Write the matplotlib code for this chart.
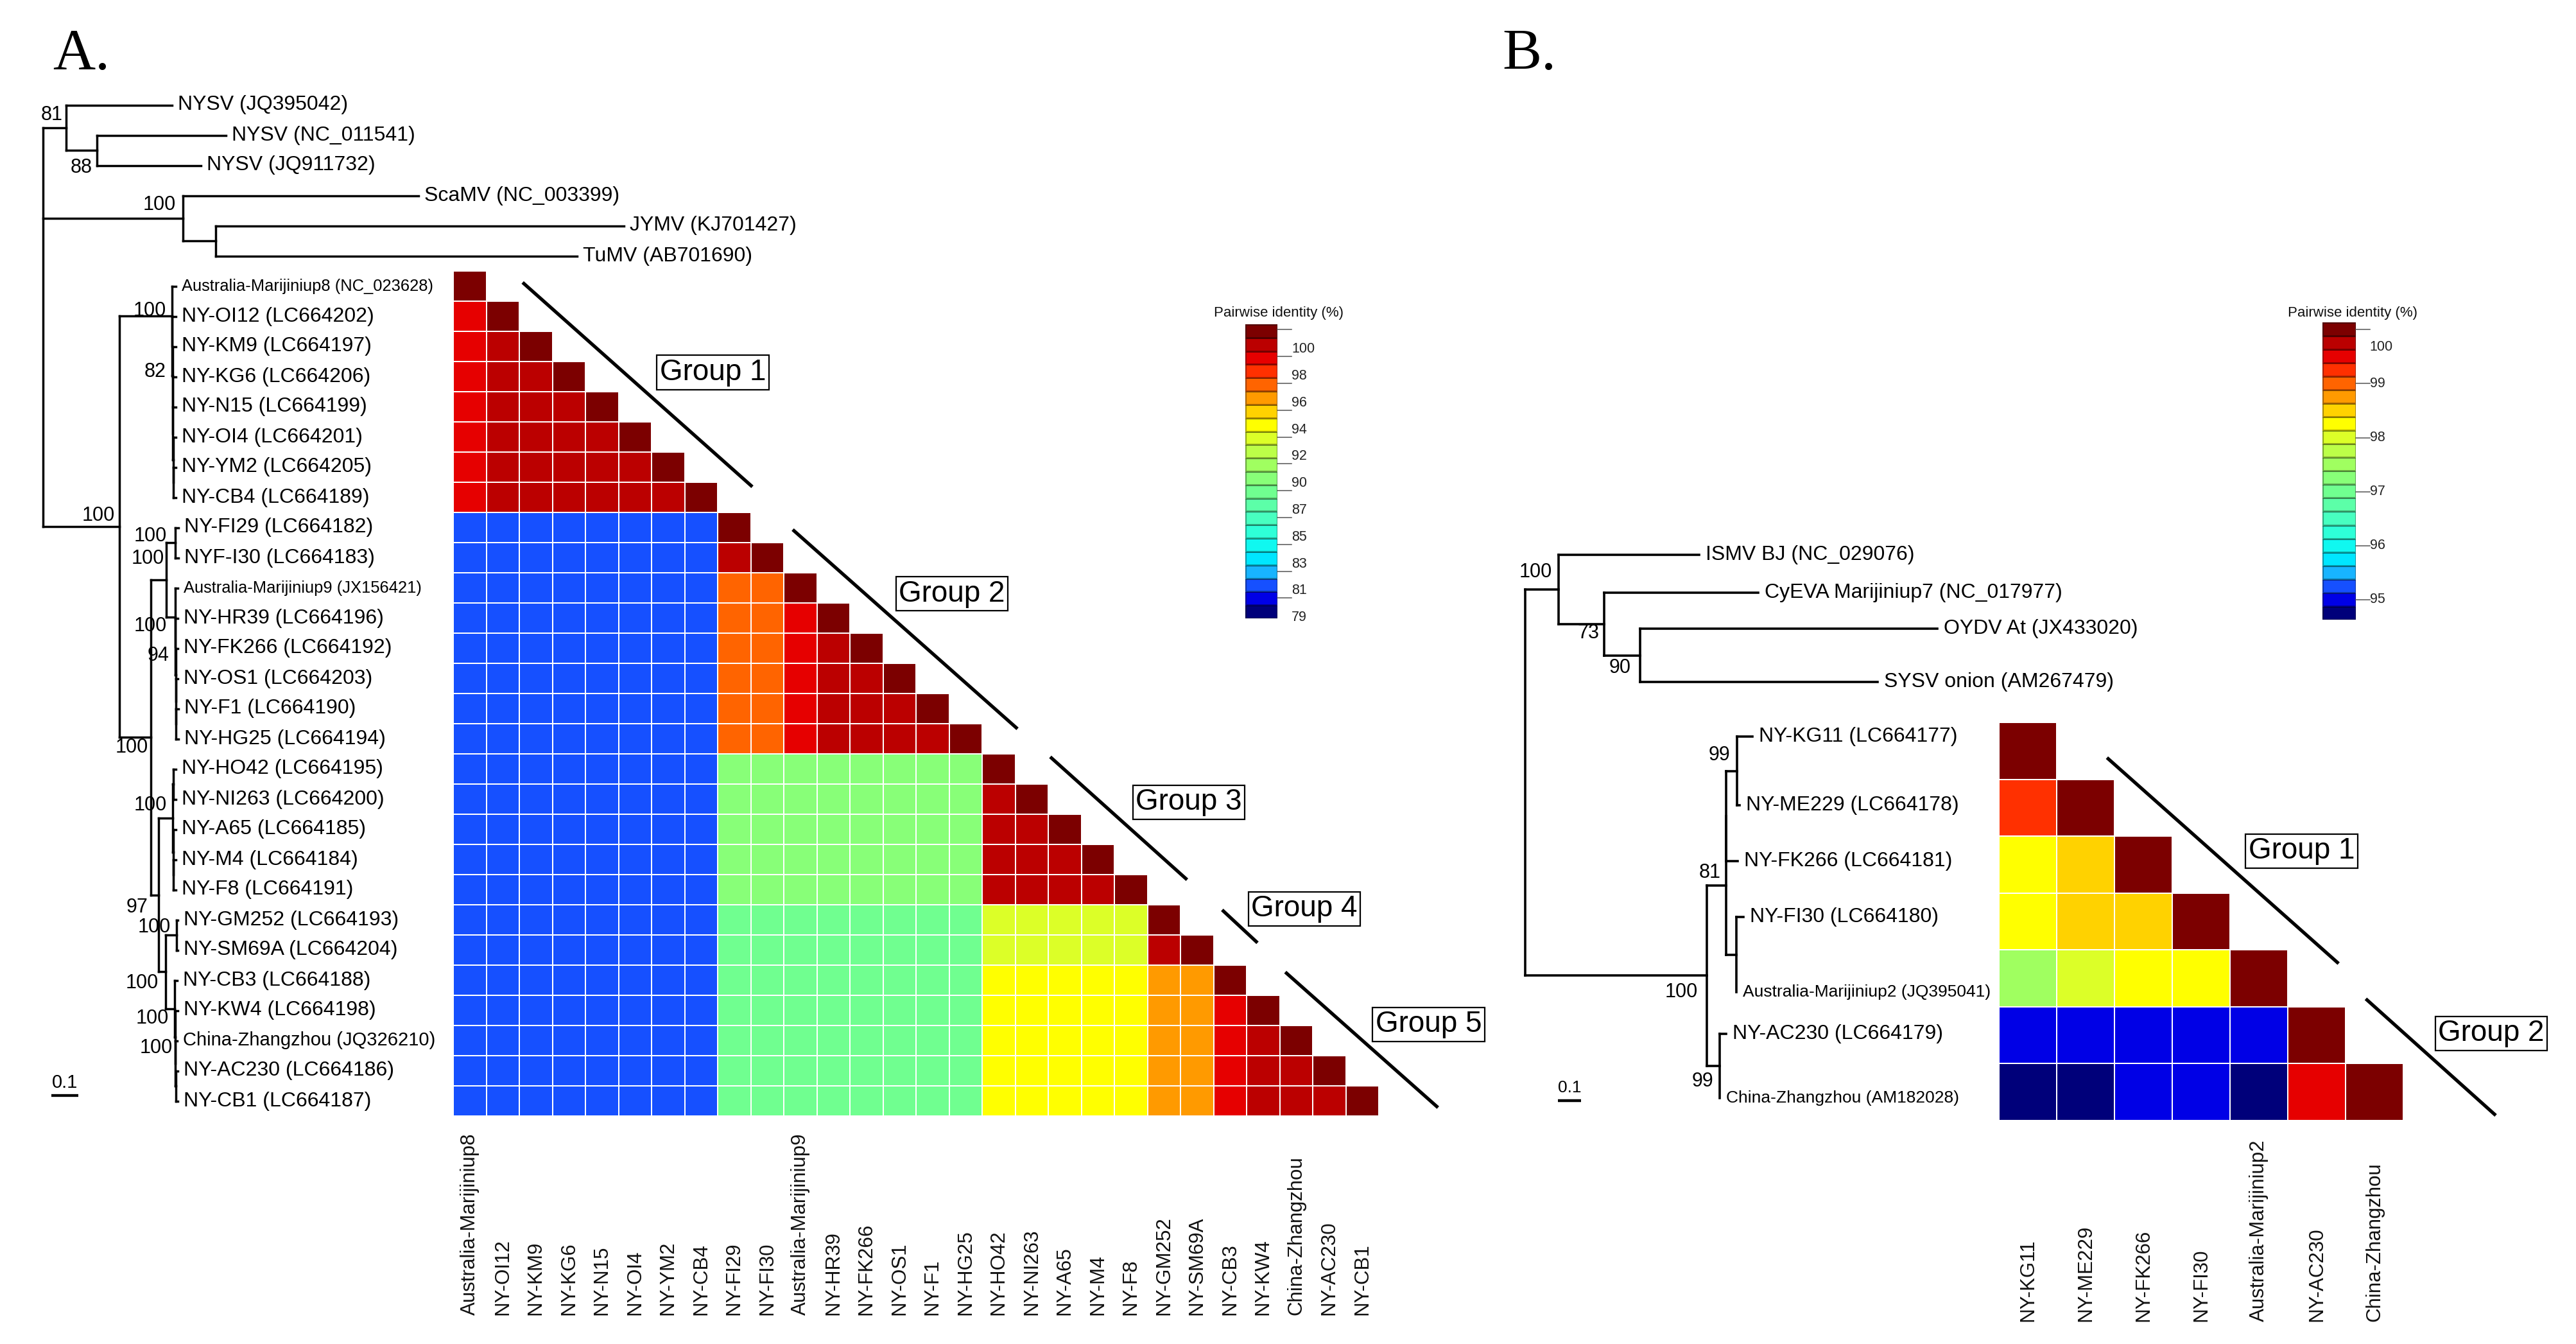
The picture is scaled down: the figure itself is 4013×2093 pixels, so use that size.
import numpy as np
import matplotlib
matplotlib.use("Agg")
import matplotlib.pyplot as plt
from matplotlib import transforms
from matplotlib.colors import ListedColormap, BoundaryNorm

plt.rcParams['font.family'] = ['Liberation Sans', 'DejaVu Sans']

W, H = 4013, 2093

# ---------------- panel A: ML tree (newick, branch lengths in subst./site) ----------------
A_NYSV = "('NYSV (JQ395042)':0.391,('NYSV (NC_011541)':0.479,'NYSV (JQ911732)':0.388)88:0.112)81:0.088"
A_SCAMV = "('ScaMV (NC_003399)':0.873,('JYMV (KJ701427)':1.515,'TuMV (AB701690)':1.339):0.121)100:0.521"
A_G1 = ("('Australia-Marijiniup8 (NC_023628)':0.016,('NY-OI12 (LC664202)':0.014,('NY-KM9 (LC664197)':0.013,"
        "('NY-KG6 (LC664206)':0.012,('NY-N15 (LC664199)':0.011,('NY-OI4 (LC664201)':0.010,"
        "('NY-YM2 (LC664205)':0.009,'NY-CB4 (LC664189)':0.009):0.001):0.001):0.001):0.001):0.001)82:0.001)100:0.194")
A_FI = "('NY-FI29 (LC664182)':0.012,'NYF-I30 (LC664183)':0.012)100:0.033"
A_A9 = ("('Australia-Marijiniup9 (JX156421)':0.010,('NY-HR39 (LC664196)':0.009,('NY-FK266 (LC664192)':0.008,"
        "('NY-OS1 (LC664203)':0.008,('NY-F1 (LC664190)':0.008,'NY-HG25 (LC664194)':0.008):0.001):0.001):0.001)94:0.001)100:0.033")
A_G3 = ("(('NY-HO42 (LC664195)':0.010,'NY-NI263 (LC664200)':0.010):0.002,('NY-A65 (LC664185)':0.010,"
        "('NY-M4 (LC664184)':0.010,'NY-F8 (LC664191)':0.010):0.001):0.002)100:0.052")
A_G4 = "('NY-GM252 (LC664193)':0.006,'NY-SM69A (LC664204)':0.006)100:0.039"
A_G5 = ("('NY-CB3 (LC664188)':0.009,('NY-KW4 (LC664198)':0.009,('China-Zhangzhou (JQ326210)':0.007,"
        "('NY-AC230 (LC664186)':0.007,'NY-CB1 (LC664187)':0.007):0.001):0.001)100:0.001)100:0.033")
TREE_A = ("(" + A_NYSV + "," + A_SCAMV + ",(" + A_G1 + ",((" + A_FI + "," + A_A9 + ")100:0.058,(" + A_G3 +
          ",(" + A_G4 + "," + A_G5 + ")100:0.027)97:0.030)100:0.115)100:0.285);")

# heatmap A: columns, subgroup sizes and pairwise identity (%) between subgroups
a_cols = ["Australia-Marijiniup8", "NY-OI12", "NY-KM9", "NY-KG6", "NY-N15", "NY-OI4", "NY-YM2", "NY-CB4",
          "NY-FI29", "NY-FI30", "Australia-Marijiniup9", "NY-HR39", "NY-FK266", "NY-OS1", "NY-F1", "NY-HG25",
          "NY-HO42", "NY-NI263", "NY-A65", "NY-M4", "NY-F8", "NY-GM252", "NY-SM69A",
          "NY-CB3", "NY-KW4", "China-Zhangzhou", "NY-AC230", "NY-CB1"]
a_sizes = [1, 7, 2, 1, 5, 5, 2, 1, 4]
nan = np.nan
a_block = [
    [nan],
    [98.3, 99.3],
    [80.5, 80.5, 99.3],
    [80.5, 80.5, 96.2, nan],
    [80.5, 80.5, 96.2, 98.3, 99.3],
    [80.5, 80.5, 88.9, 88.9, 88.9, 99.3],
    [80.5, 80.5, 87.8, 87.8, 87.8, 92.0, 99.3],
    [80.5, 80.5, 87.8, 87.8, 87.8, 93.0, 95.1, nan],
    [80.5, 80.5, 87.8, 87.8, 87.8, 93.0, 95.1, 98.3, 99.3],
]
a_key_ticks = [79.0, 81.1, 83.2, 85.3, 87.4, 89.5, 91.6, 93.7, 95.8, 97.9, 100.0]
a_key_labels = ["79", "81", "83", "85", "87", "90", "92", "94", "96", "98", "100"]

# ---------------- panel B ----------------
B_TOP = ("('ISMV BJ (NC_029076)':0.599,('CyEVA Marijiniup7 (NC_017977)':0.657,"
         "('OYDV At (JX433020)':1.264,'SYSV onion (AM267479)':1.011)90:0.154)73:0.194)100:0.142")
B_G1 = ("((('NY-KG11 (LC664177)':0.066,'NY-ME229 (LC664178)':0.011)99:0.045,'NY-FK266 (LC664181)':0.048):0.0,"
        "('NY-FI30 (LC664180)':0.031,'Australia-Marijiniup2 (JQ395041)':0.001):0.042)81:0.083")
B_G2 = "('NY-AC230 (LC664179)':0.028,'China-Zhangzhou (AM182028)':0.001)99:0.055"
TREE_B = "(" + B_TOP + ",(" + B_G1 + "," + B_G2 + ")100:0.773);"

b_cols = ["NY-KG11", "NY-ME229", "NY-FK266", "NY-FI30", "Australia-Marijiniup2", "NY-AC230", "China-Zhangzhou"]
b_identity = [
    [100.0],
    [99.3, 100.0],
    [98.3, 98.5, 100.0],
    [98.15, 98.5, 98.6, 100.0],
    [97.5, 98.0, 98.25, 98.3, 100.0],
    [95.0, 95.0, 95.05, 95.1, 95.0, 100.0],
    [94.75, 94.8, 94.95, 95.0, 94.8, 99.5, 100.0],
]
b_key_ticks = [95, 96, 97, 98, 99, 100]
b_key_labels = ["95", "96", "97", "98", "99", "100"]

# colour key bands (bottom -> top)
band_colors = ['#00007a', '#0000e6', '#1650ff', '#18b4ff', '#00e6ff', '#10f8f0', '#2effd8', '#48ffc0',
               '#5cffa8', '#70ff90', '#88ff78', '#a0ff60', '#bcff48', '#dcff28', '#ffff00', '#ffd200',
               '#ff9a00', '#ff6400', '#ff3000', '#e60000', '#bb0000', '#7c0000']
band_cmap = ListedColormap(band_colors)


def parse_newick(s):
    s = s.strip().rstrip(';')
    pos = 0

    def node():
        nonlocal pos
        kids = []
        if s[pos] == '(':
            pos += 1
            while True:
                kids.append(node())
                if s[pos] == ',':
                    pos += 1
                    continue
                pos += 1
                break
        if pos < len(s) and s[pos] == "'":
            end = s.index("'", pos + 1)
            name = s[pos + 1:end]
            pos = end + 1
        else:
            st = pos
            while pos < len(s) and s[pos] not in ':,)':
                pos += 1
            name = s[st:pos]
        bl = 0.0
        if pos < len(s) and s[pos] == ':':
            pos += 1
            st = pos
            while pos < len(s) and s[pos] not in ',)':
                pos += 1
            bl = float(s[st:pos])
        return {'name': name, 'bl': bl, 'children': kids}
    return node()


def walk(nd):
    yield nd
    for c in nd['children']:
        yield from walk(c)


def layout(nd, x0, ys, count):
    nd['x'] = x0 + nd['bl']
    if not nd['children']:
        nd['y'] = ys[count[0]]
        count[0] += 1
    else:
        for c in nd['children']:
            layout(c, nd['x'], ys, count)
        nd['y'] = 0.5 * (nd['children'][0]['y'] + nd['children'][-1]['y'])


fig = plt.figure(figsize=(W / 100, H / 100), dpi=100)


def axes_px(x0, y0, x1, y1):
    return fig.add_axes([x0 / W, 1 - y1 / H, (x1 - x0) / W, (y1 - y0) / H])


def draw_tree(newick, root_px, ppu, leaf_y, lw, gap, size_of, offsets, sup_size, bar):
    ax = fig.add_axes([0, 0, 1, 1])
    ax.set_xlim(-root_px / ppu, (W - root_px) / ppu)
    ax.set_ylim(H, 0)
    ax.axis('off')
    root = parse_newick(newick)
    layout(root, 0.0, leaf_y, [0])
    for nd in walk(root):
        ch = nd['children']
        if ch:
            ax.plot([nd['x'], nd['x']], [ch[0]['y'], ch[-1]['y']], color='k', lw=lw)
            for c in ch:
                ax.plot([nd['x'], c['x']], [c['y'], c['y']], color='k', lw=lw)
        else:
            ax.text(nd['x'] + gap / ppu, nd['y'], nd['name'], ha='left', va='center',
                    fontsize=size_of(nd['name']))
    labelled = [nd for nd in walk(root) if nd['children'] and nd['name']]
    for nd, (dx, dy) in zip(labelled, offsets):
        ax.text(nd['x'] + dx / ppu, nd['y'] + dy, nd['name'], ha='right', va='center', fontsize=sup_size)
    bx, by, bsize = bar
    x0 = (bx - root_px) / ppu
    ax.plot([x0, x0 + 0.1], [by, by], color='k', lw=lw + 0.6, solid_capstyle='butt')
    ax.text(x0 + 0.05, by - 20, "0.1", ha='center', va='center', fontsize=bsize)


def draw_heat(box, M, cmap, norm, cols, label_y, lines, boxes):
    ax = axes_px(*box)
    n = M.shape[0]
    ax.pcolormesh(np.arange(n + 1), np.arange(n + 1), np.ma.masked_invalid(M), cmap=cmap, norm=norm,
                  edgecolors='white', linewidth=1.2)
    ax.set_xlim(0, n)
    ax.set_ylim(n, 0)
    ax.axis('off')
    tr = transforms.blended_transform_factory(ax.transData, fig.transFigure)
    for j, lab in enumerate(cols):
        ax.text(j + 0.5, 1 - label_y / H, lab, rotation=90, ha='center', va='bottom',
                transform=tr, fontsize=22.5, color='#111111')
    for (c0, r0), (c1, r1) in lines:
        ax.plot([c0, c1], [r0, r1], color='k', lw=3.8, clip_on=False, solid_capstyle='butt')
    for k, (c, r) in enumerate(boxes):
        ax.text(c, r, "Group %d" % (k + 1), ha='center', va='center', fontsize=33, clip_on=False,
                bbox=dict(boxstyle='square,pad=0.1', fc='white', ec='black', lw=1.6))


def draw_key(box, lo, hi, labels, lines, label_at, tick_len, title_xy):
    ax = axes_px(*box)
    edges = np.linspace(lo, hi, len(band_colors) + 1)
    centres = 0.5 * (edges[:-1] + edges[1:])
    ax.pcolormesh([0, 1], edges, centres.reshape(-1, 1), cmap=band_cmap,
                  norm=BoundaryNorm(edges, len(band_colors)), edgecolors=(0, 0, 0, 0.35), linewidth=0.8)
    ax.set_xlim(0, 1)
    ax.set_ylim(lo, hi)
    ax.axis('off')
    for v in lines:
        ax.plot([1, 1 + tick_len], [v, v], color='#555555', lw=1.1, clip_on=False)
    for v, lab in zip(label_at, labels):
        ax.text(1 + tick_len, v, lab, ha='left', va='center', fontsize=15.5, color='#222222')
    fig.text(title_xy[0] / W, 1 - title_xy[1] / H, "Pairwise identity (%)", ha='center', va='center',
             fontsize=16, color='#111111')


# ---------------- panel A ----------------
A_TOP, A_BOT, A_LEFT, A_RIGHT = 422, 1738, 706, 2148
n_a = len(a_cols)
rowh_a = (A_BOT - A_TOP) / n_a
a_leaf_y = A_TOP + rowh_a * (np.arange(n_a + 6) - 6 + 0.5)


def size_a(name):
    if name.startswith('Australia'):
        return 18.4
    if name.startswith('China'):
        return 21
    return 23


a_offsets = [(-6, -20), (-7, 27), (-11, -21), (-7, -17), (-9, -8), (-10, 40), (-4, 16), (-3, -33),
             (-13, -10), (-13, 14), (-10, 14), (-17, 19), (-9, -20), (-12, 18), (-9, -12), (-9, 15), (-4, 17)]
draw_tree(TREE_A, 66.5, 420, a_leaf_y, 2.5, 9, size_a, a_offsets, 22, (80, 1706, 21))

member = np.repeat(np.arange(len(a_sizes)), a_sizes)
MA = np.full((n_a, n_a), np.nan)
for i in range(n_a):
    for j in range(i):
        MA[i, j] = a_block[member[i]][member[j]]
    MA[i, i] = 100.0
norm_a = BoundaryNorm(np.linspace(77.9, 100.9, len(band_colors) + 1), len(band_colors))
a_lines = [((2.1, 0.38), (9.05, 7.15)), ((10.27, 8.57), (17.07, 15.17)), ((18.06, 16.1), (22.2, 20.17)),
           ((23.26, 21.17), (24.33, 22.26)), ((25.17, 23.23), (29.79, 27.72))]
a_boxes = [(7.86, 3.36), (15.09, 10.7), (22.25, 17.6), (25.75, 21.13), (29.5, 24.96)]
draw_heat((A_LEFT, A_TOP, A_RIGHT, A_BOT), MA, band_cmap, norm_a, a_cols, 2048, a_lines, a_boxes)

draw_key((1940, 505, 1990, 963), 78.93, 101.94, a_key_labels,
         [t + 1.52 for t in a_key_ticks], a_key_ticks, 0.44, (1992, 488))

# ---------------- panel B ----------------
b_leaf_y = [864, 923, 979, 1062, 1147, 1254, 1341, 1428, 1545, 1610, 1710]


def size_b(name):
    if name.startswith('Australia') or name.startswith('China'):
        return 19
    return 23


b_offsets = [(-10, -27), (-8, 14), (-15, 19), (-14, 26), (-9, -20), (-10, -24), (-10, 24)]
draw_tree(TREE_B, 2376, 366, b_leaf_y, 2.6, 10, size_b, b_offsets, 22, (2426.5, 1714, 19))

n_b = len(b_cols)
MB = np.full((n_b, n_b), np.nan)
for i, row in enumerate(b_identity):
    MB[i, :len(row)] = row
norm_b = BoundaryNorm(np.linspace(94.63, 100.14, len(band_colors) + 1), len(band_colors))
b_lines = [((1.87, 0.62), (5.88, 4.24)), ((6.35, 4.86), (8.6, 6.91))]
b_boxes = [(5.24, 2.26), (8.52, 5.47)]
draw_heat((3114, 1125, 3744, 1745), MB, band_cmap, norm_b, b_cols, 2058, b_lines, b_boxes)

draw_key((3618, 501.5, 3670, 965), 94.63, 100.14, b_key_labels,
         b_key_ticks, [95, 96, 97, 98, 99, 99.68], 0.42, (3665, 488))

# panel letters
fig.text(82 / W, 1 - 108 / H, "A.", fontsize=66, family='Liberation Serif', va='baseline')
fig.text(2340 / W, 1 - 108 / H, "B.", fontsize=66, family='Liberation Serif', va='baseline')

fig.savefig("out.png", dpi=100)
